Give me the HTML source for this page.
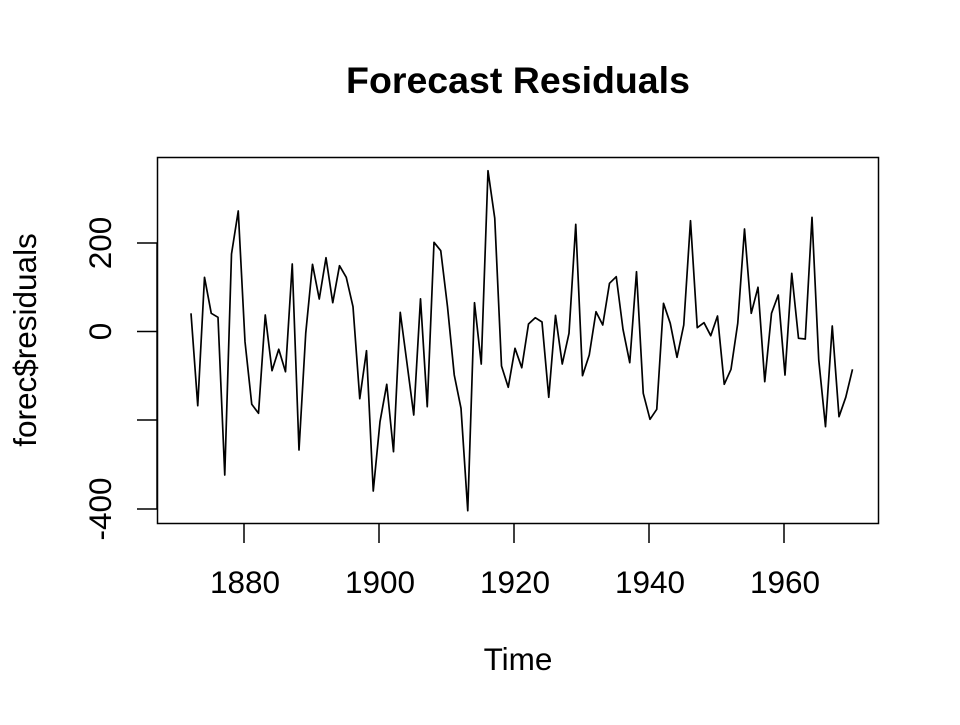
<!DOCTYPE html>
<html><head><style>body{margin:0;background:#fff}</style></head><body>
<svg width="960" height="720" xmlns="http://www.w3.org/2000/svg" font-family="Liberation Sans, sans-serif">
<rect width="960" height="720" fill="#fff"/>
<text x="518" y="93" font-size="37.5" font-weight="bold" text-anchor="middle">Forecast Residuals</text>
<rect x="157.5" y="157.5" width="721" height="366" fill="none" stroke="#000" stroke-width="1.5"/>
<g stroke="#000" stroke-width="1.5">
<line x1="244" y1="523" x2="244" y2="543"/><line x1="379" y1="523" x2="379" y2="543"/><line x1="514" y1="523" x2="514" y2="543"/><line x1="649" y1="523" x2="649" y2="543"/><line x1="784" y1="523" x2="784" y2="543"/>
<line x1="157" y1="243" x2="157" y2="509"/>
<line x1="137" y1="243" x2="157" y2="243"/><line x1="137" y1="331.5" x2="157" y2="331.5"/><line x1="137" y1="420" x2="157" y2="420"/><line x1="137" y1="509" x2="157" y2="509"/>
</g>
<g font-size="31.5" text-anchor="middle">
<text x="245" y="593">1880</text><text x="380" y="593">1900</text><text x="515" y="593">1920</text><text x="650" y="593">1940</text><text x="785" y="593">1960</text>
<text x="518" y="670">Time</text>
<text transform="translate(111,243) rotate(-90)">200</text>
<text transform="translate(111,331.5) rotate(-90)">0</text>
<text transform="translate(111,509) rotate(-90)">-400</text>
<text transform="translate(36,340) rotate(-90)">forec$residuals</text>
</g>
<polyline fill="none" stroke="#000" stroke-width="1.7" stroke-linejoin="round" points="191,313.3 197.75,405.7 204.5,277.3 211.25,313.3 218,317.3 224.75,475 231.5,254 238.25,211 245,341.7 251.75,404.3 258.5,413.3 265.25,315 272,370.7 278.75,349.3 285.5,371.7 292.25,264 299,450 305.75,333 312.5,264.3 319.25,299 326,257.7 332.75,302.7 339.5,265.7 346.25,277.3 353,306.7 359.75,398.7 366.5,350.7 373.25,491 380,421.7 386.75,384.3 393.5,451.7 400.25,312.3 407,363.3 413.75,415 420.5,298.8 427.25,406.7 434,242.3 440.75,250.7 447.5,306.7 454.25,375 461,408.3 467.75,510.7 474.5,302.7 481.25,364 488,170.7 494.75,218.3 501.5,366 508.25,387.3 515,348.3 521.75,367.7 528.5,324 535.25,317.7 542,322 548.75,397.3 555.5,315.3 562.25,364 569,333.3 575.75,224.3 582.5,375.7 589.25,355 596,311.7 602.75,325 609.5,283.3 616.25,276.7 623,329.3 629.75,362.7 636.5,271.7 643.25,393.3 650,419.3 656.75,409.3 663.5,303.3 670.25,323.3 677,357.3 683.75,325 690.5,220.7 697.25,327.7 704,322.7 710.75,335.7 717.5,316 724.25,384.3 731,369.3 737.75,323.3 744.5,229 751.25,313.3 758,287.3 764.75,381.7 771.5,313.3 778.25,295 785,375 791.75,273.3 798.5,338.3 805.25,339 812,217.3 818.75,360 825.5,426.7 832.25,326 839,416.7 845.75,397.3 852.5,369.3"/>
</svg>
</body></html>
